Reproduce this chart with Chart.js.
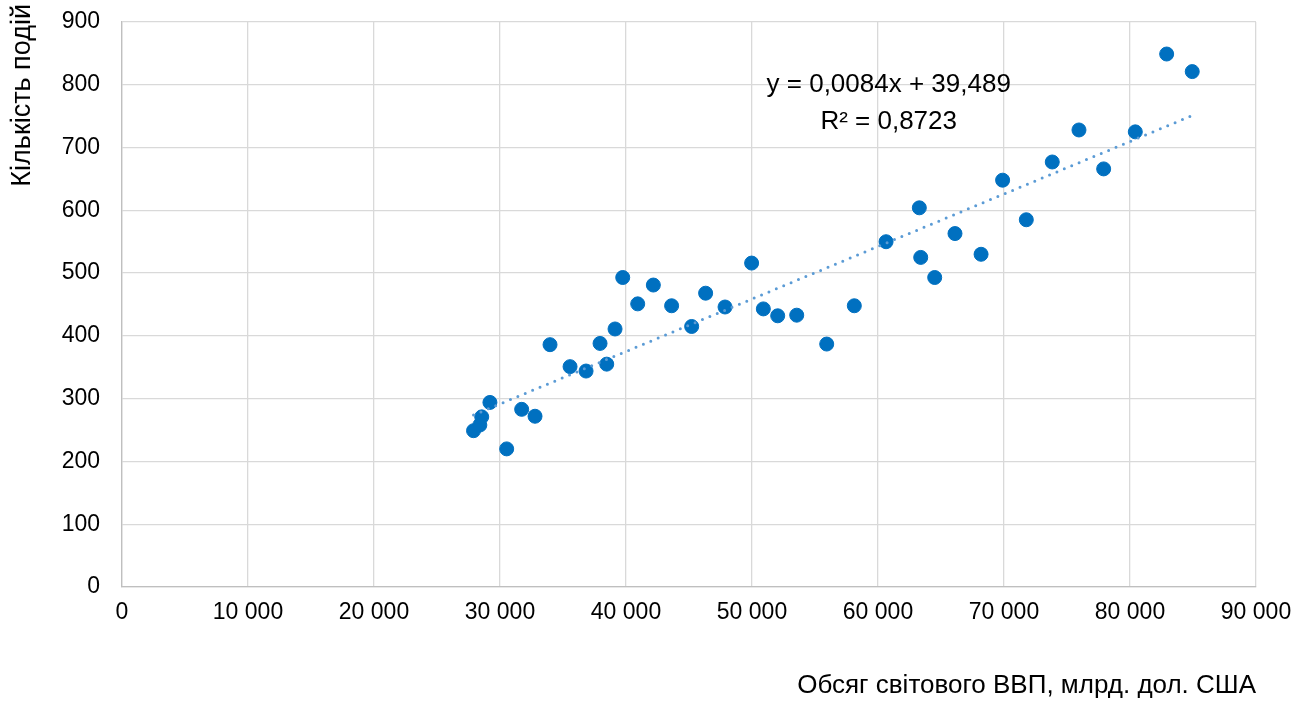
<!DOCTYPE html>
<html>
<head>
<meta charset="utf-8">
<script src="https://cdn.jsdelivr.net/npm/chart.js@4.4.1/dist/chart.umd.min.js"></script>
<style>
  html, body { margin: 0; padding: 0; background: #fff; }
  #wrap { width: 1306px; height: 701px; position: relative; }
</style>
</head>
<body>
<div id="wrap"><canvas id="gdpChart"></canvas></div>
<script>
// GDP (bn USD) vs number of events
const gdpValues = [
  27900, 28400, 28550, 29200, 30530, 31720, 32780, 33970, 35560, 36830,
  37940, 38470, 39130, 39740, 40930, 42170, 43620, 45210, 46320, 47860,
  49970, 50900, 52040, 53550, 55930, 58120, 60640, 63280, 63390, 64500,
  66110, 68180, 69890, 71770, 73830, 75950, 77910, 80420, 82910, 84940
];
const eventCounts = [
  249, 258, 271, 294, 220, 283, 272, 386, 351, 344,
  388, 355, 411, 493, 451, 481, 448, 415, 468, 446,
  516, 443, 432, 433, 387, 448, 550, 604, 525, 493,
  563, 530, 648, 585, 677, 728, 666, 725, 849, 821
];

// linear trend line end points (as drawn)
const trendX = [27900, 84940];
const trendY = [274, 751];
const trendLabels = ["y = 0,0084x + 39,489", "R² = 0,8723"];

const xTitle = "Обсяг світового ВВП, млрд. дол. США";
const yTitle = "Кількість подій";

const FONT = "'Liberation Sans', Arial, sans-serif";

function formatThousands(v) {
  return String(v).replace(/\B(?=(\d{3})+(?!\d))/g, " ");
}

const scatterPoints = gdpValues.map((x, i) => ({ x, y: eventCounts[i] }));
const trendPoints = trendX.map((x, i) => ({ x, y: trendY[i] }));

// equation label + rotated y title
const labelsPlugin = {
  id: "extraLabels",
  afterDatasetsDraw(chart) {
    const { ctx, scales } = chart;
    const cx = scales.x.getPixelForValue(60850);
    const y1 = scales.y.getPixelForValue(800);
    ctx.save();
    ctx.fillStyle = "#000";
    ctx.font = "26px " + FONT;
    ctx.textAlign = "center";
    ctx.textBaseline = "middle";
    ctx.fillText(trendLabels[0], cx, y1);
    ctx.fillText(trendLabels[1], cx, y1 + 37);

    ctx.font = "27px " + FONT;
    ctx.translate(23, 4);
    ctx.rotate(-Math.PI / 2);
    ctx.textAlign = "right";
    ctx.fillText(yTitle, 0, 0);
    ctx.restore();
  }
};

new Chart(document.getElementById("gdpChart"), {
  type: "scatter",
  data: {
    datasets: [
      {
        label: "Trend",
        type: "line",
        data: trendPoints,
        borderColor: "#5B9BD5",
        borderWidth: 3,
        borderDash: [0, 8],
        borderCapStyle: "round",
        pointRadius: 0,
        fill: false,
        order: 0
      },
      {
        label: "Events",
        data: scatterPoints,
        backgroundColor: "#0070C0",
        borderColor: "#0070C0",
        pointRadius: 7,
        pointHoverRadius: 7,
        order: 1
      }
    ]
  },
  options: {
    responsive: true,
    maintainAspectRatio: false,
    animation: false,
    layout: { padding: { top: 22, right: 50, left: 0, bottom: 0 } },
    plugins: {
      legend: { display: false },
      tooltip: { enabled: false }
    },
    scales: {
      x: {
        type: "linear",
        min: 0,
        max: 90000,
        ticks: {
          stepSize: 10000,
          color: "#000",
          padding: 12,
          maxRotation: 0,
          font: { family: FONT, size: 23 },
          callback: (v) => formatThousands(v)
        },
        grid: { color: "#d9d9d9", lineWidth: 1.3, drawTicks: false },
        border: { color: "#bfbfbf", width: 1.3 },
        title: {
          display: true,
          text: xTitle,
          align: "end",
          color: "#000",
          font: { family: FONT, size: 26 },
          padding: { top: 31, bottom: 0 }
        },
        afterFit: (scale) => {
          scale.height = 114;
          scale.paddingLeft = 0;
          scale.paddingRight = 0;
        }
      },
      y: {
        min: 0,
        max: 900,
        ticks: {
          stepSize: 100,
          color: "#000",
          padding: 22,
          font: { family: FONT, size: 23 }
        },
        grid: { color: "#d9d9d9", lineWidth: 1.3, drawTicks: false },
        border: { color: "#bfbfbf", width: 1.3 },
        afterFit: (scale) => {
          scale.width = 122;
          scale.paddingTop = 0;
          scale.paddingBottom = 0;
        }
      }
    }
  },
  plugins: [labelsPlugin]
});
</script>
</body>
</html>
